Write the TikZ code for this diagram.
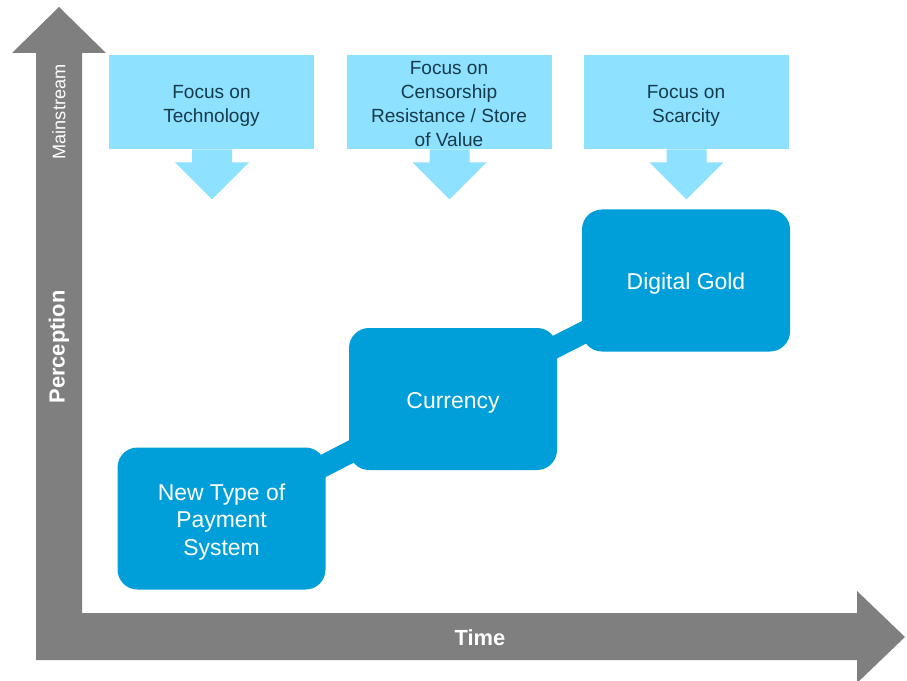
\documentclass[tikz,border=0pt]{standalone}
\usepackage{fontspec}
\setmainfont{Liberation Sans}
\usetikzlibrary{backgrounds}
\definecolor{axisgray}{HTML}{7F7F7F}
\definecolor{lightbox}{HTML}{8EE1FF}
\definecolor{darkbox}{HTML}{009FDA}
\definecolor{darktext}{HTML}{173B4C}
\newcommand{\lowtext}[2][3pt]{\raisebox{-#1}[\dimexpr\height-2pt\relax][\dimexpr\depth-2pt\relax]{\begin{tabular}{@{}c@{}}#2\end{tabular}}}
\tikzset{
  focusbox/.style={fill=lightbox, draw=none, minimum width=205*0.75pt, minimum height=94*0.75pt,
    inner sep=0pt, align=center, text=darktext, font=\fontsize{14.3}{18}\selectfont},
  focusarrow/.style={fill=lightbox, draw=none},
  stagebox/.style={fill=darkbox, draw=none, rounded corners=15pt, minimum width=208*0.75pt,
    minimum height=142*0.75pt, inner sep=0pt, align=center, text=white,
    font=\fontsize{17.2}{20.6}\selectfont},
  stagelink/.style={draw=darkbox, line width=16.5pt},
  axislabel/.style={text=white, inner sep=0pt}
}
\begin{document}
\begin{tikzpicture}[x=0.75pt,y=-0.75pt]
\useasboundingbox (0,0) rectangle (907,681);
% axes
\path[fill=axisgray] (12,53) -- (59,7) -- (106,53) -- (82,53) -- (82,613) -- (857,613) -- (857,591)
  -- (905,637) -- (857,683) -- (857,660) -- (36,660) -- (36,53) -- cycle;
\node[axislabel, rotate=90, font=\fontsize{13.6}{16}\selectfont] (mainstream) at (59,112) {Mainstream};
\node[axislabel, rotate=90, font=\bfseries\fontsize{16.4}{19}\selectfont] (perception) at (59,347) {Perception};
\node[axislabel, font=\bfseries\fontsize{16.4}{19}\selectfont] (time) at (480,638) {Time};
% focus boxes
\node[focusbox] (f1) at (211.5,102) {\lowtext{Focus on\\Technology}};
\node[focusbox] (f2) at (449,102) {\lowtext[2.5pt]{Focus on\\Censorship\\Resistance / Store\\of Value}};
\node[focusbox] (f3) at (686,102) {\lowtext{Focus on\\Scarcity}};
\foreach \f in {f1,f2,f3}{
  \path[focusarrow] ([xshift=-19.5*0.75pt]\f.south) -- ++(0,13) -- ++(-17,0) -- ++(37,37) -- ++(37,-37)
    -- ++(-17,0) -- ++(0,-13) -- cycle;
}
% stage boxes
\node[stagebox] (s1) at (221.5,518.5) {\lowtext{New Type of\\Payment\\System}};
\node[stagebox] (s2) at (453,399) {\lowtext{Currency}};
\node[stagebox] (s3) at (686,280.5) {\lowtext[2.5pt]{Digital Gold}};
\begin{scope}[on background layer]
\draw[stagelink] (s1.center) -- (s2.center);
\draw[stagelink] (s2.center) -- (s3.center);
\end{scope}
\end{tikzpicture}
\end{document}
